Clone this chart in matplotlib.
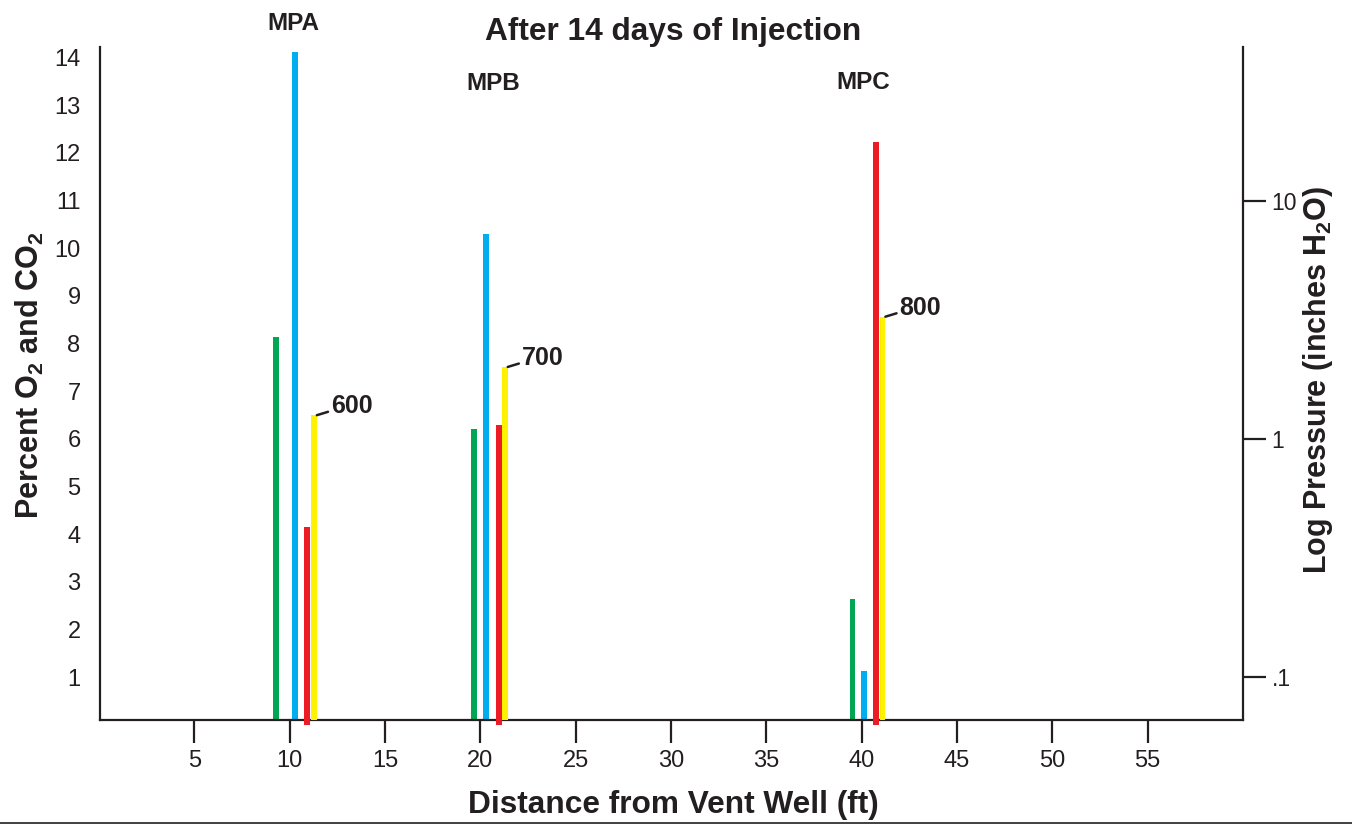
import matplotlib
matplotlib.use('Agg')
import matplotlib.pyplot as plt
from matplotlib.transforms import blended_transform_factory
from matplotlib.lines import Line2D
from matplotlib.ticker import NullLocator

plt.rcParams['font.family'] = ['Liberation Sans', 'DejaVu Sans']
plt.rcParams['mathtext.fontset'] = 'custom'
plt.rcParams['mathtext.rm'] = 'Liberation Sans:bold'
plt.rcParams['mathtext.bf'] = 'Liberation Sans:bold'

INK = '#231f20'

# Monitoring points and their readings after 14 days of injection
points = ['MPA', 'MPB', 'MPC']
point_x = [10.17, 20.65, 40.09]

green_x = [9.28, 19.65, 39.52]
green_pct = [8.14, 6.20, 2.63]

blue_x = [10.27, 20.28, 40.12]
blue_pct = [14.12, 10.29, 1.13]

red_x = [10.93, 20.96, 40.75]
red_pct = [4.15, 6.29, 12.23]

yellow_x = [11.27, 21.28, 41.09]
pressure = [1.26, 2.01, 3.27]
pressure_labels = ['600', '700', '800']

x_ticks = [5, 10, 15, 20, 25, 30, 35, 40, 45, 50, 55]
pct_ticks = list(range(1, 15))
pressure_ticks = [0.1, 1, 10]
pressure_tick_labels = ['.1', '1', '10']

# Layout / style
BAR_W = 0.31
X_LIM = (0.05, 60.0)
PCT_LIM = (0.10, 14.22)
P_LIM = (0.0659, 44.5)
point_label_y = [0.972, 0.899, 0.900]

fig = plt.figure(figsize=(13.52, 8.25), dpi=100)
ax = fig.add_axes([100 / 1352, 1 - 720 / 825, 1143 / 1352, 673 / 825])

ax.bar(green_x, green_pct, width=BAR_W, color='#00a651', zorder=2)
ax.bar(blue_x, blue_pct, width=BAR_W, color='#00aeef', zorder=2)
ax.bar(red_x, red_pct, width=BAR_W, color='#ed1c24', zorder=3, clip_on=False)

ax.set_xlim(*X_LIM)
ax.set_ylim(*PCT_LIM)
ax.set_xticks(x_ticks)
ax.set_yticks(pct_ticks)
ax.tick_params(axis='y', length=0, pad=14, labelsize=17, labelcolor=INK)
ax.tick_params(axis='x', length=16.5, width=1.6, pad=5, direction='out',
               labelsize=17, labelcolor=INK, color=INK)
ax.spines['top'].set_visible(False)
ax.spines['right'].set_visible(False)
for s in ('left', 'bottom'):
    ax.spines[s].set_linewidth(1.6)
    ax.spines[s].set_color(INK)

# Pressure on a log scale, right-hand axis
ax2 = ax.twinx()
ax2.set_yscale('log')
ax2.set_ylim(*P_LIM)
ax2.bar(yellow_x, [p - P_LIM[0] for p in pressure], bottom=P_LIM[0],
        width=BAR_W, color='#fff200', zorder=3)
ax2.set_yticks(pressure_ticks)
ax2.set_yticklabels(pressure_tick_labels)
ax2.yaxis.set_minor_locator(NullLocator())
ax2.tick_params(axis='y', length=16.5, width=1.6, pad=4, direction='out',
                labelsize=16.5, labelcolor=INK, color=INK)
for s in ('top', 'left', 'bottom'):
    ax2.spines[s].set_visible(False)
ax2.spines['right'].set_linewidth(1.6)
ax2.spines['right'].set_color(INK)

for x, p, lab in zip(yellow_x, pressure, pressure_labels):
    ax2.annotate(lab, xy=(x + BAR_W / 2, p), xytext=(10, 6.5),
                 textcoords='offset points', ha='left', va='center',
                 fontsize=18, fontweight='bold', color=INK,
                 arrowprops=dict(arrowstyle='-', lw=1.8, color=INK,
                                 shrinkA=0, shrinkB=0, relpos=(0, 0.3)))

# Monitoring point names above the bar groups
tr = blended_transform_factory(ax.transData, fig.transFigure)
for name, x, y in zip(points, point_x, point_label_y):
    ax.text(x, y, name, transform=tr, ha='center', va='center',
            fontsize=17.5, fontweight='bold', color=INK)

fig.text(0.498, 0.961, 'After 14 days of Injection', ha='center', va='center',
         fontsize=22.8, fontweight='bold', color=INK)
fig.text(0.498, 0.024, 'Distance from Vent Well (ft)', ha='center', va='center',
         fontsize=22.8, fontweight='bold', color=INK)
fig.text(0.022, 0.545, r'Percent O$_\mathrm{2}$ and CO$_\mathrm{2}$', rotation=90,
         ha='center', va='center', fontsize=22, fontweight='bold', color=INK)
fig.text(0.975, 0.539, r'Log Pressure (inches H$_\mathrm{2}$O)', rotation=90,
         ha='center', va='center', fontsize=22, fontweight='bold', color=INK)

fig.add_artist(Line2D([0, 1], [0.0025, 0.0025], transform=fig.transFigure,
                      color=INK, lw=1.2))

fig.savefig('out.png', dpi=100)
